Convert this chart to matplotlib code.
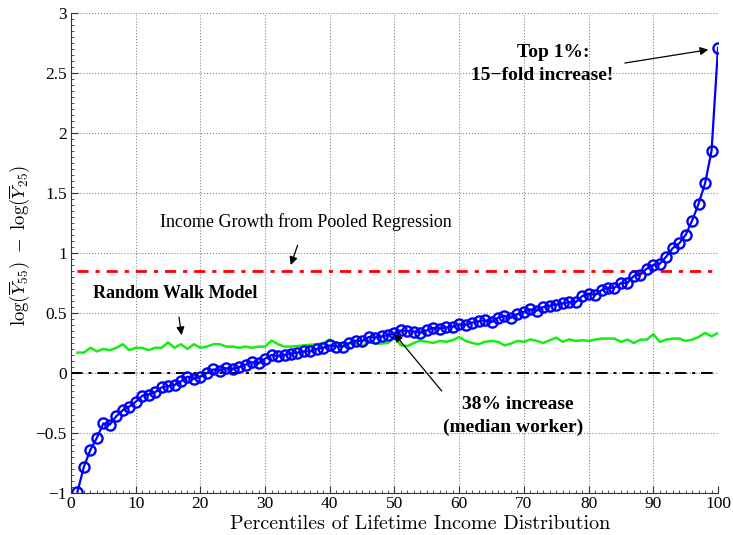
import matplotlib
matplotlib.use("Agg")
import matplotlib.pyplot as plt
import numpy as np
from matplotlib.ticker import MultipleLocator

percentiles = list(range(1, 101))
growth = [-0.99, -0.78, -0.64, -0.54, -0.42, -0.43, -0.36, -0.31, -0.28, -0.24,
          -0.19, -0.18, -0.16, -0.12, -0.11, -0.10, -0.07, -0.03, -0.05, -0.03,
          0.00, 0.03, 0.02, 0.04, 0.03, 0.05, 0.07, 0.09, 0.08, 0.12,
          0.15, 0.14, 0.15, 0.16, 0.17, 0.18, 0.18, 0.20, 0.21, 0.23,
          0.22, 0.22, 0.25, 0.27, 0.265, 0.30, 0.295, 0.305, 0.315, 0.33,
          0.355, 0.35, 0.345, 0.335, 0.355, 0.375, 0.37, 0.38, 0.385, 0.405,
          0.40, 0.42, 0.43, 0.44, 0.425, 0.46, 0.475, 0.46, 0.49, 0.51,
          0.53, 0.52, 0.55, 0.56, 0.57, 0.58, 0.59, 0.59, 0.64, 0.66,
          0.65, 0.69, 0.71, 0.71, 0.75, 0.75, 0.81, 0.82, 0.87, 0.90,
          0.91, 0.97, 1.04, 1.08, 1.15, 1.27, 1.41, 1.58, 1.85, 2.71]
random_walk = [0.17, 0.17, 0.21, 0.18, 0.20, 0.19, 0.21, 0.24, 0.19, 0.21,
               0.21, 0.19, 0.21, 0.21, 0.255, 0.21, 0.24, 0.20, 0.24, 0.21,
               0.22, 0.24, 0.24, 0.22, 0.22, 0.21, 0.22, 0.21, 0.22, 0.22,
               0.27, 0.24, 0.22, 0.22, 0.225, 0.23, 0.235, 0.24, 0.25, 0.28,
               0.24, 0.245, 0.245, 0.25, 0.22, 0.27, 0.245, 0.245, 0.25, 0.295,
               0.23, 0.225, 0.25, 0.27, 0.26, 0.25, 0.267, 0.26, 0.273, 0.30,
               0.267, 0.25, 0.24, 0.26, 0.267, 0.26, 0.23, 0.245, 0.267, 0.26,
               0.28, 0.267, 0.25, 0.273, 0.295, 0.26, 0.28, 0.267, 0.273, 0.267,
               0.278, 0.287, 0.287, 0.287, 0.259, 0.278, 0.25, 0.278, 0.278, 0.323,
               0.259, 0.278, 0.287, 0.287, 0.267, 0.278, 0.30, 0.334, 0.306, 0.334]
pooled_growth = 0.85
x_ticks = [0, 10, 20, 30, 40, 50, 60, 70, 80, 90, 100]
y_ticks = [-1, -0.5, 0, 0.5, 1, 1.5, 2, 2.5, 3]
y_tick_labels = ["\u22121", "\u22120.5", "0", "0.5", "1", "1.5", "2", "2.5", "3"]

plt.rcParams['mathtext.fontset'] = 'cm'
serif = ['Liberation Serif', 'DejaVu Serif']

fig = plt.figure(figsize=(7.33, 5.35), dpi=100)
ax = fig.add_axes([71/733, 1 - 493/535, (718-71)/733, (493-13)/535])

ax.plot([0, 100], [0, 0], color='black', linestyle='-.', linewidth=1.4, dashes=(6, 3, 1.5, 3))
ax.plot([1, 100], [pooled_growth, pooled_growth], color='red', linewidth=2.0,
        linestyle='-.', dashes=(4, 2.5, 1.5, 2.5))
ax.plot(percentiles, random_walk, color='#14ee14', linewidth=1.8)
ax.plot(percentiles, growth, color='blue', linewidth=1.6, marker='o', markersize=7.3,
        markerfacecolor='none', markeredgewidth=1.7)

ax.set_xlim(0, 100)
ax.set_ylim(-1, 3)
ax.set_xticks(x_ticks)
ax.set_xticklabels([str(t) for t in x_ticks], family=serif, fontsize=12.5)
ax.set_yticks(y_ticks)
ax.set_yticklabels(y_tick_labels, family=serif, fontsize=12.5)
ax.xaxis.set_minor_locator(MultipleLocator(1))
ax.yaxis.set_minor_locator(MultipleLocator(0.05))
ax.tick_params(which='major', direction='in', length=5, width=0.8, pad=3, color='#333333')
ax.tick_params(which='minor', direction='in', length=2.5, width=0.6, color='#333333')
ax.tick_params(axis='x', which='major', pad=2.5)
ax.grid(True, which='major', linestyle=':', color='#888888', linewidth=0.8)
for s in ['top', 'right']:
    ax.spines[s].set_visible(False)
for s in ['left', 'bottom']:
    ax.spines[s].set_color('#333333')
    ax.spines[s].set_linewidth(0.8)

ax.set_xlabel('Percentiles of Lifetime Income Distribution', family='cmr10', fontsize=14.5)
ax.xaxis.set_label_coords((420 - 71) / 647, -(515 - 493) / 480)
ax.set_ylabel(r'$\log(\overline{Y}_{55})\ -\ \log(\overline{Y}_{25})$', fontsize=13.5)
ax.yaxis.set_label_coords(-(71 - 32) / 647, (493 - 245) / 480)

ax.annotate('Income Growth from Pooled Regression', xy=(33.96, 0.90), xytext=(36.3, 1.26),
            ha='center', va='center', family=serif, fontsize=13,
            arrowprops=dict(arrowstyle='-|>', color='black', lw=0.9, shrinkA=9, shrinkB=0,
                            mutation_scale=12))
ax.annotate('Random Walk Model', xy=(17.1, 0.315), xytext=(16.15, 0.663),
            ha='center', va='center', family=serif, fontsize=13, fontweight='bold',
            arrowprops=dict(arrowstyle='-|>', color='black', lw=0.9, shrinkA=9, shrinkB=0,
                            mutation_scale=12))
ax.annotate('', xy=(98.5, 2.694), xytext=(85.6, 2.583),
            arrowprops=dict(arrowstyle='-|>', color='black', lw=0.9, shrinkA=0, shrinkB=0,
                            mutation_scale=12))
ax.text((553 - 71) / 6.47, (372.7 - 53) / 119.8, 'Top 1%:', ha='center', va='center',
        family=serif, fontsize=14, fontweight='bold')
ax.text((542 - 71) / 6.47, (372.7 - 76) / 119.8, '15\u2212fold increase!', ha='center', va='center',
        family=serif, fontsize=14, fontweight='bold')
ax.annotate('', xy=(49.95, 0.328), xytext=(57.3, -0.15),
            arrowprops=dict(arrowstyle='-|>', color='black', lw=0.9, shrinkA=0, shrinkB=0,
                            mutation_scale=12))
ax.text((518 - 71) / 6.47, (372.7 - 404) / 119.8, '38% increase', ha='center', va='center',
        family=serif, fontsize=14, fontweight='bold')
ax.text((513.3 - 71) / 6.47, (372.7 - 426.7) / 119.8, '(median worker)', ha='center', va='center',
        family=serif, fontsize=14, fontweight='bold')

fig.savefig('out.png', dpi=100)
